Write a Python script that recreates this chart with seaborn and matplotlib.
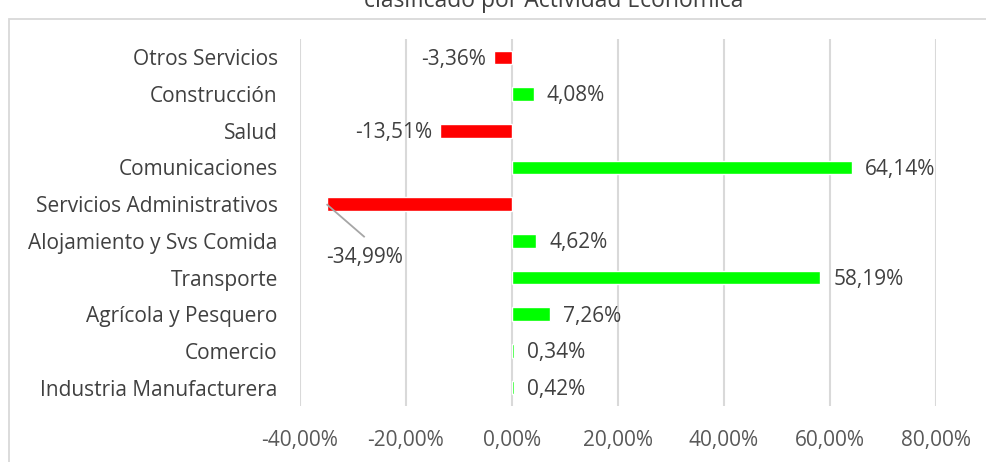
import matplotlib
matplotlib.use("Agg")
import matplotlib.pyplot as plt
import seaborn as sns
import pandas as pd
from matplotlib.patches import Rectangle

categories = ["Otros Servicios", "Construcción", "Salud", "Comunicaciones",
              "Servicios Administrativos", "Alojamiento y Svs Comida", "Transporte",
              "Agrícola y Pesquero", "Comercio", "Industria Manufacturera"]
values = [-3.36, 4.08, -13.51, 64.14, -34.99, 4.62, 58.19, 7.26, 0.34, 0.42]
labels = ["-3,36%", "4,08%", "-13,51%", "64,14%", "-34,99%", "4,62%", "58,19%",
          "7,26%", "0,34%", "0,42%"]
xticks = [-40, -20, 0, 20, 40, 60, 80]
xticklabels = ["-40,00%", "-20,00%", "0,00%", "20,00%", "40,00%", "60,00%", "80,00%"]
title = "clasificado por Actividad Económica"

sns.set_theme(style="white")
plt.rcParams['font.family'] = ['Open Sans', 'DejaVu Sans']

df = pd.DataFrame({"cat": categories, "val": values,
                   "sign": ["neg" if v < 0 else "pos" for v in values]})

fig = plt.figure(figsize=(9.87, 4.62), dpi=100)
W, H = 987, 462
ax = fig.add_axes([300 / W, 1 - 406 / H, (936 - 300) / W, (406 - 39) / H])

sns.barplot(data=df, x="val", y="cat", hue="sign", palette={"neg": "#FF0000", "pos": "#00FF00"},
            width=0.373, dodge=False, legend=False, ax=ax, orient="h", saturation=1)

FS = 15
ax.set_xlim(-40, 80)
ax.set_ylim(len(categories) - 0.5, -0.5)
ax.set_xticks(xticks)
ax.set_xticklabels(xticklabels, color="#595959", fontsize=FS)
ax.tick_params(axis="x", length=0, pad=17)
ax.tick_params(axis="y", length=0, pad=16, labelsize=FS, labelcolor="#404040")
ax.set_xlabel("")
ax.set_ylabel("")
for s in ax.spines.values():
    s.set_visible(False)
ax.grid(axis="x", color="#D9D9D9", linewidth=1.5)
ax.set_axisbelow(True)

for i, (v, lab) in enumerate(zip(values, labels)):
    if lab == "-34,99%":
        ax.text(v + 7.2, i + 1.45, lab, ha="center", va="center", fontsize=FS, color="#404040")
        ax.plot([v, v + 7.2], [i, i + 0.9], color="#A6A6A6", lw=1.3, solid_capstyle="butt")
    elif v < 0:
        ax.text(v - 1.5, i + 0.05, lab, ha="right", va="center", fontsize=FS, color="#404040")
    else:
        ax.text(v + 2.4, i + 0.05, lab, ha="left", va="center", fontsize=FS, color="#404040")

fig.patches.append(Rectangle((9 / W, -0.1), 1.2, 1 - 19 / H + 0.1, transform=fig.transFigure,
                             fill=False, edgecolor="#D9D9D9", linewidth=1.3))
fig.text(554 / W, 1 - 7 / H, title, ha="center", va="baseline", fontsize=16.5, color="#404040")

fig.savefig("out.png", dpi=100)
